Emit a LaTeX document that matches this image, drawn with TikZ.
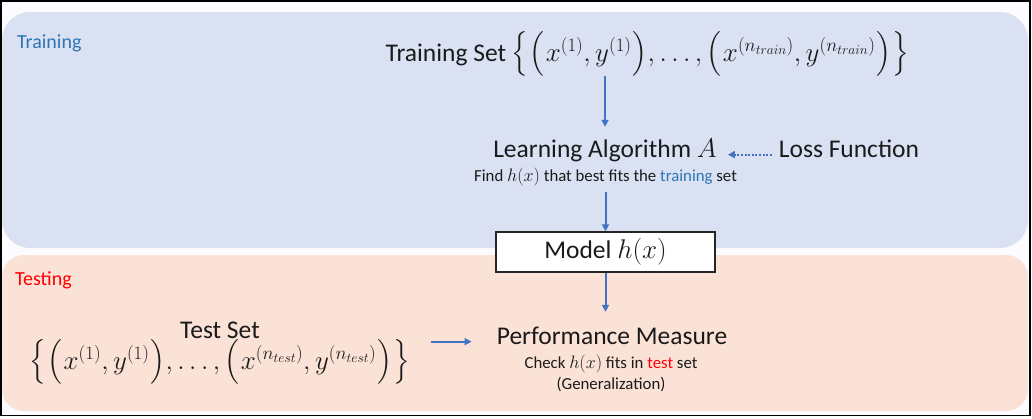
\documentclass[tikz,border=0pt]{standalone}
\usepackage{fix-cm}
\usepackage{exscale}
\usepackage{fontspec}
\setmainfont{Carlito}
\usetikzlibrary{arrows.meta}
\definecolor{panelblue}{HTML}{D9E1F2}
\definecolor{panelpeach}{HTML}{FBE2D6}
\definecolor{pagebg}{HTML}{FCFBFF}
\definecolor{arrowblue}{HTML}{4472C4}
\definecolor{labelblue}{HTML}{2E75B6}
\definecolor{labelred}{HTML}{FF0000}
\definecolor{txt}{HTML}{1A1A1A}
\newcommand\mydl[1]{\mathopen{\left#1\vrule height 1em depth .45em width 0pt\right.}}
\newcommand\mydr[1]{\mathclose{\left.\vrule height 1em depth .45em width 0pt\right#1}}
\newcommand\mysetmath[1]{{\fontsize{27}{26}\selectfont$\mydl\{\mydl(x^{(1)},y^{(1)}\mydr),\ldots,\mydl(x^{(n_{#1})},y^{(n_{#1})}\mydr)\mydr\}$}}
\tikzset{
  big/.style={font=\fontsize{25.5}{30}\selectfont, text=txt, inner sep=0pt, anchor=base},
  small/.style={font=\fontsize{16.8}{19}\selectfont, text=txt, inner sep=0pt, anchor=base},
  lbl/.style={font=\fontsize{20}{23}\selectfont, inner sep=0pt, anchor=base west},
  arr/.style={draw=arrowblue, line width=2pt, -{Triangle[length=7pt,width=7pt]}},
  dotarr/.style={arr, dash pattern=on 2pt off 1.6pt},
  modelbox/.style={draw=black!85, line width=1.3pt, fill=white, minimum width=219pt, minimum height=40pt, inner sep=0pt, font=\fontsize{25.5}{30}\selectfont, text=txt},
}
\begin{document}
\begin{tikzpicture}[x=1pt,y=-1pt]
\useasboundingbox (0,0) rectangle (1032,418);
\fill[white] (0,0) rectangle (1032,418);
\fill[pagebg] (0,0) rectangle (1030,416);
% panels
\fill[panelblue, rounded corners=28pt] (2,12) rectangle (1028,248);
\fill[panelpeach, rounded corners=22pt] (2,255) rectangle (1028,411);
\draw[black, line width=1.5pt] (0.75,0.75) rectangle (1030,415.5);
% labels
\node[lbl, text=labelblue] (trainlbl) at (17,48) {Training};
\node[lbl, text=labelred] (testlbl) at (15,285) {Testing};
% training nodes
\node[big, text height=14pt, text depth=8pt] (trainset) at (647.5,61) {Training Set \mysetmath{train}};
\node[big, text height=18pt] (learn) at (605,157) {Learning Algorithm {\fontsize{27}{30}\selectfont$A$}};
\node[big] (loss) at (849,157) {Loss Function};
\node[small, text depth=4pt] (find) at (605.5,181) {Find {\fontsize{18}{19}\selectfont$h(x)$} that best fits the \textcolor{labelblue}{training} set};
\node[modelbox] (model) at (605.5,252) {Model {\fontsize{27}{30}\selectfont$h(x)$}};
% testing nodes
\node[big, text depth=2pt] (testtitle) at (220,338) {Test Set};
\node[big, text height=12pt] (testelems) at (220,369) {\mysetmath{test}};
\node[big, text height=18pt] (perf) at (612,344) {Performance Measure};
\node[small] (check) at (611,368) {Check {\fontsize{18}{19}\selectfont$h(x)$} fits in \textcolor{labelred}{test} set};
\node[small] (gen) at (611,389) {(Generalization)};
% connectors
\draw[arr, shorten <=7pt, shorten >=12pt] (trainset.south -| learn.north) -- (learn.north);
\draw[arr, shorten <=7pt] (find.south -| model.north) -- (model.north);
\draw[arr, shorten >=14pt] (model.south) -- (model.south |- perf.north);
\draw[dotarr, shorten <=7pt, shorten >=11pt] (loss.mid west) -- (learn.mid east);
\draw[arr, shorten <=21pt, shorten >=25pt] (testelems.east |- perf.mid west) -- (perf.mid west);
\end{tikzpicture}
\end{document}
